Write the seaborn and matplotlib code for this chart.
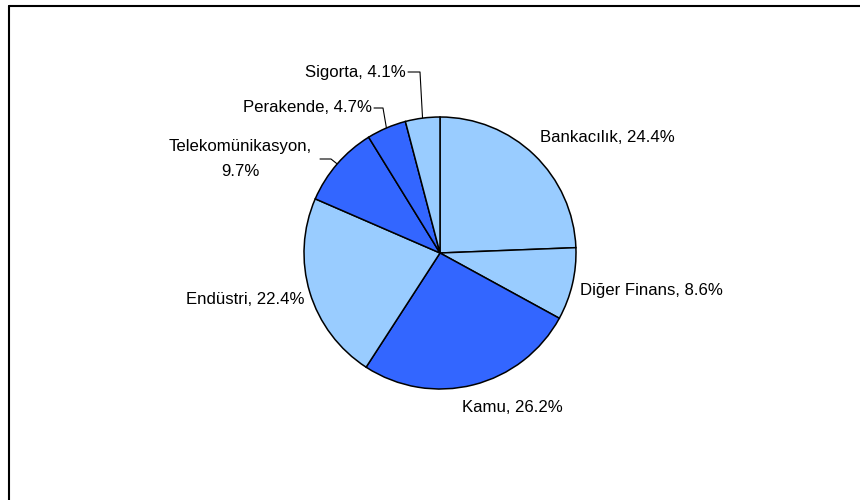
import matplotlib
matplotlib.use("Agg")
import matplotlib.pyplot as plt
from matplotlib.lines import Line2D
import numpy as np
import seaborn as sns

# Sector shares (%) in clockwise order starting at 12 o'clock
sectors = ["Bankacılık", "Diğer Finans", "Kamu", "Endüstri",
           "Telekomünikasyon", "Perakende", "Sigorta"]
shares = [24.4, 8.6, 26.2, 22.4, 9.7, 4.7, 4.1]
label_texts = ["Bankacılık, 24.4%", "Diğer Finans, 8.6%", "Kamu, 26.2%",
               "Endüstri, 22.4%", "Telekomünikasyon,\n9.7%", "Perakende, 4.7%",
               "Sigorta, 4.1%"]
shade = ["light", "light", "dark", "light", "dark", "dark", "light"]

sns.set_style("white")
plt.rcParams["font.family"] = ["Liberation Sans", "DejaVu Sans"]

light, dark = sns.color_palette(["#99CCFF", "#3366FF"])
colors = [light if s == "light" else dark for s in shade]

W, H = 860, 500
fig = plt.figure(figsize=(W / 100, H / 100), dpi=100)
ax = fig.add_axes([0, 0, 1, 1])
ax.set_xlim(0, W)
ax.set_ylim(H, 0)
ax.axis("off")

cx, cy, r = 440, 253, 136

# Pie drawn in an upward y frame on its own axes
pie_ax = fig.add_axes([0, 0, 1, 1])
pie_ax.pie(shares, colors=colors, startangle=90, counterclock=False,
           center=(cx, H - cy), radius=r, frame=True,
           wedgeprops=dict(edgecolor="black", linewidth=1.1))
pie_ax.set_xlim(0, W)
pie_ax.set_ylim(0, H)
pie_ax.set_aspect("auto")
pie_ax.axis("off")

# Label layout (pixel positions, text alignment, optional leader elbow)
layout = {
    "Bankacılık": (540, 138, "left", None),
    "Diğer Finans": (580, 290, "left", None),
    "Kamu": (462, 408, "left", None),
    "Endüstri": (304, 300, "right", None),
    "Telekomünikasyon": (240, 159, "center", (320, 331)),
    "Perakende": (372, 108, "right", (374, 383)),
    "Sigorta": (406, 72, "right", (408, 420)),
}

total = sum(shares)
cum = np.cumsum([0] + shares)
fs = 12.1
for i, name in enumerate(sectors):
    x, y, ha, elbow = layout[name]
    ax.text(x, y, label_texts[i], ha=ha, va="center", fontsize=fs,
            color="black", linespacing=1.8, multialignment="center")
    if elbow is not None:
        mid = (cum[i] + shares[i] / 2) / total * 2 * np.pi
        ex = cx + r * np.sin(mid)
        ey = cy - r * np.cos(mid)
        ax.plot([elbow[0], elbow[1], ex], [y, y, ey], color="black", lw=0.8)

# Outer chart frame (top and left edges)
fig.add_artist(Line2D([9 / W, 1], [1 - 6 / H, 1 - 6 / H], color="black",
                      lw=1.5, transform=fig.transFigure))
fig.add_artist(Line2D([9 / W, 9 / W], [0, 1 - 6 / H], color="black",
                      lw=1.5, transform=fig.transFigure))

fig.savefig("out.png", dpi=100, facecolor="white")
